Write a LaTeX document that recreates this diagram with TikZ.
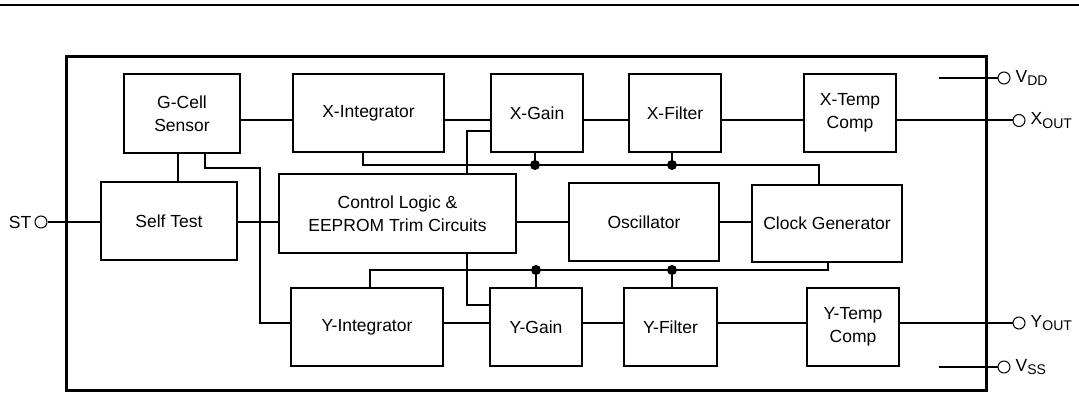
\documentclass[tikz,border=0pt]{standalone}
\usepackage{fontspec}
\setmainfont{Liberation Sans}
\usepackage{tikz}
\usetikzlibrary{calc}

\newcommand{\pinsub}[1]{\raisebox{-0.35ex}{\fontsize{14}{14}\selectfont #1}}

\tikzset{
  blk/.style={draw,line width=2pt,minimum height=78pt,align=center,inner sep=2pt,font=\fontsize{17.5}{23}\selectfont},
  wire/.style={line width=2pt},
  term/.style={circle,draw,line width=1pt,minimum size=12pt,inner sep=0pt},
  jdot/.style={circle,fill=black,minimum size=10pt,inner sep=0pt},
  tag/.style={inner sep=0pt,font=\fontsize{17.5}{21}\selectfont}
}

\begin{document}
\begin{tikzpicture}[x=1pt,y=-1pt]
                    \useasboundingbox (0,0) rectangle (1079,395);
                    \draw[line width=2pt] (0,5.5) -- (1079,5.5);
                    \draw[line width=3pt] (66.7,57) rectangle (986.7,390);
                    \coordinate (xrow) at (0,120.5);
                    \coordinate (yrow) at (0,323);
                    \coordinate (xbus) at (0,165);
                    \coordinate (ybus) at (0,270);
                    \coordinate (stbus) at (260,168);
                    \draw (182,113.5) node[blk,minimum width=116pt,minimum height=79pt,name=gcell] {G-Cell\\Sensor};
                    \draw (368.5,113) node[blk,minimum width=151pt,name=xint] {X-Integrator};
                    \draw (537,113) node[blk,minimum width=92pt,name=xgain] {X-Gain};
                    \draw (675,113) node[blk,minimum width=92pt,name=xfilt] {X-Filter};
                    \draw (850,113) node[blk,minimum width=92pt,name=xtemp] {X-Temp\\Comp};
                    \draw (169,221) node[blk,minimum width=136pt,name=self] {Self Test};
                    \draw (397.5,213.5) node[blk,minimum width=237pt,minimum height=79pt,name=ctrl] {Control Logic \&\\EEPROM Trim Circuits};
                    \draw (644,222) node[blk,minimum width=150pt,name=osc] {Oscillator};
                    \draw (827,223.5) node[blk,minimum width=150pt,minimum height=77pt,name=clk] {Clock Generator};
                    \draw (367,327) node[blk,minimum width=152pt,name=yint] {Y-Integrator};
                    \draw (536,327) node[blk,minimum width=92pt,name=ygain] {Y-Gain};
                    \draw (670.5,327) node[blk,minimum width=93pt,name=yfilt] {Y-Filter};
                    \draw (853,327) node[blk,minimum width=92pt,name=ytemp] {Y-Temp\\Comp};
                    \draw (41,222) node[term,name=st] {};
                    \draw (1004,78) node[term,name=vdd] {};
                    \draw (1019,120.5) node[term,name=xout] {};
                    \draw (1019,323) node[term,name=yout] {};
                    \draw (1004,367) node[term,name=vss] {};
                    \coordinate (vddin) at (939,78);
                    \coordinate (vssin) at (939,367);
                    \draw (st.west) node[tag,anchor=east,xshift=-3pt] {ST};
                    \draw (vdd.east) node[tag,anchor=west,xshift=5pt] {V\pinsub{DD}};
                    \draw (xout.east) node[tag,anchor=west,xshift=5pt] {X\pinsub{OUT}};
                    \draw (yout.east) node[tag,anchor=west,xshift=5pt] {Y\pinsub{OUT}};
                    \draw (vss.east) node[tag,anchor=west,xshift=5pt] {V\pinsub{SS}};
                    \draw[wire] (gcell.east |- xrow) -- (xint.west |- xrow);
                    \draw[wire] (xint.east |- xrow) -- (xgain.west |- xrow);
                    \draw[wire] (xgain.east |- xrow) -- (xfilt.west |- xrow);
                    \draw[wire] (xfilt.east |- xrow) -- (xtemp.west |- xrow);
                    \draw[wire] (xtemp.east |- xrow) -- (xout.west);
                    \draw[wire] (yint.east |- yrow) -- (ygain.west |- yrow);
                    \draw[wire] (ygain.east |- yrow) -- (yfilt.west |- yrow);
                    \draw[wire] (yfilt.east |- yrow) -- (ytemp.west |- yrow);
                    \draw[wire] (ytemp.east |- yrow) -- (yout.west);
                    \draw[wire] (vddin) -- (vdd.west);
                    \draw[wire] (vssin) -- (vss.west);
                    \draw[wire] (st.east) -- (self.west |- st.east);
                    \draw[wire] ([xshift=-4pt]gcell.south) -- ([xshift=-4pt]gcell.south |- self.north);
                    \draw[wire] ([xshift=23pt]gcell.south) |- (stbus) |- (yint.west |- yrow);
                    \draw[wire] (self.east |- st.east) -- (ctrl.west |- st.east);
                    \draw[wire] (ctrl.east |- st.east) -- (osc.west |- st.east);
                    \draw[wire] (osc.east |- st.east) -- (clk.west |- st.east);
                    \draw[wire] ([xshift=-5.5pt]xint.south) |- ([xshift=-8pt]clk.north |- xbus) -- ([xshift=-8pt]clk.north);
                    \draw[wire] ([xshift=-2pt]xgain.south) -- ([xshift=-2pt]xgain.south |- xbus) node[jdot] {};
                    \draw[wire] ([xshift=-3pt]xfilt.south) -- ([xshift=-3pt]xfilt.south |- xbus) node[jdot] {};
                    \draw[wire] ([xshift=69.5pt]ctrl.north) |- ([yshift=-18pt]xgain.west);
                    \draw[wire] ([xshift=69.5pt]ctrl.south) |- ([yshift=22pt]ygain.west);
                    \draw[wire] ([xshift=1pt]clk.south) |- ([xshift=3pt]yint.north |- ybus) -- ([xshift=3pt]yint.north);
                    \draw[wire] (ygain.north) -- (ygain.north |- ybus) node[jdot] {};
                    \draw[wire] ([xshift=1.5pt]yfilt.north) -- ([xshift=1.5pt]yfilt.north |- ybus) node[jdot] {};
                \end{tikzpicture}
\end{document}
